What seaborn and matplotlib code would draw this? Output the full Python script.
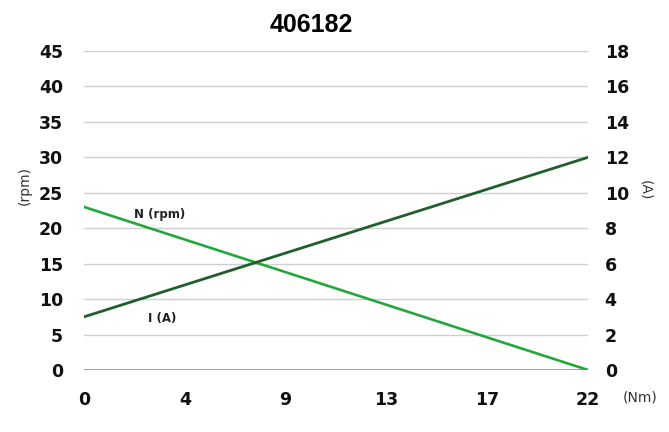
import pandas as pd
import matplotlib.pyplot as plt
import seaborn as sns

# values
torque = [0, 22]          # Nm
speed = [23, 0]           # rpm
current = [3, 12]         # A
xticks = [0, 4.4, 8.8, 13.2, 17.6, 22]
xtick_labels = ["0", "4", "9", "13", "17", "22"]
left_ticks = [0, 5, 10, 15, 20, 25, 30, 35, 40, 45]
right_ticks = [0, 2, 4, 6, 8, 10, 12, 14, 16, 18]

df = pd.DataFrame({"torque": torque, "speed": speed, "current": current})

sns.set_style("white")
plt.rcParams['font.family'] = ['DejaVu Sans']

fig = plt.figure(figsize=(6.69, 4.32), dpi=100)
ax = fig.add_axes([0.1256, 0.1435, 0.7534, 0.7385])
ax2 = ax.twinx()

light = "#22a83a"
dark = "#1f5f2b"

sns.lineplot(x="torque", y="speed", data=df, ax=ax, color=light, linewidth=1.9)
sns.lineplot(x="torque", y="current", data=df, ax=ax2, color=dark, linewidth=2.0)

ax.set_xlim(0, 22)
ax.set_ylim(0, 45)
ax2.set_ylim(0, 18)
ax.set_yticks(left_ticks)
ax2.set_yticks(right_ticks)
ax.set_xticks(xticks)
ax.set_xticklabels(xtick_labels)

# grid lines
for v in left_ticks[1:]:
    ax.axhline(v, color="#cfcfcf", linewidth=1.0, zorder=0)
ax.axhline(0, color="#9a9a9a", linewidth=1.3, zorder=0)

for a in (ax, ax2):
    for s in a.spines.values():
        s.set_visible(False)
    a.tick_params(length=0, labelsize=12.5, colors="#111111")
    for lab in a.get_xticklabels() + a.get_yticklabels():
        lab.set_fontweight("bold")
    a.set_xlabel("")
    a.set_ylabel("")

ax.tick_params(axis="x", pad=15)
ax.tick_params(axis="y", pad=15)
ax2.tick_params(axis="y", pad=12)

ax.set_title("406182", fontsize=18, fontweight="bold", pad=14, color="#000000", x=0.45,
             family=["Liberation Sans", "DejaVu Sans"])

fig.text(0.037, 0.57, "(rpm)", rotation=90, ha="center", va="center", fontsize=10, color="#333333")
fig.text(0.965, 0.56, "(A)", rotation=270, ha="center", va="center", fontsize=10, color="#333333")
fig.text(0.957, 0.081, "(Nm)", ha="center", va="center", fontsize=10, color="#333333")

ax.text(3.3, 21.9, "N (rpm)", fontsize=8.5, fontweight="bold", ha="center", va="center", color="#222222")
ax.text(3.4, 7.3, "I (A)", fontsize=8.5, fontweight="bold", ha="center", va="center", color="#222222")

plt.savefig("out.png", dpi=100)
